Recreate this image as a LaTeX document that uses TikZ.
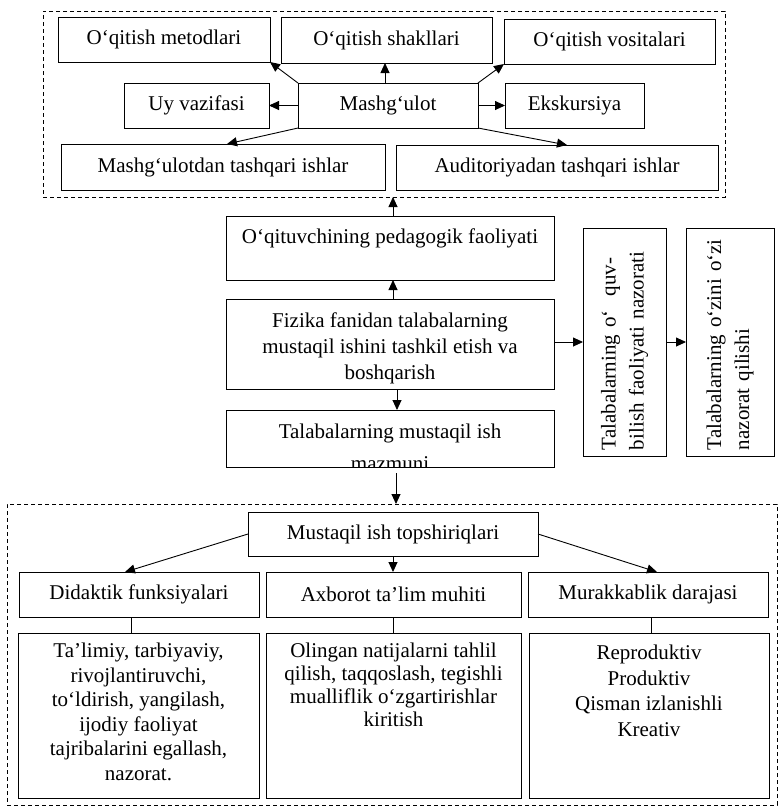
\documentclass[tikz,border=0pt]{standalone}
\usepackage{fontspec}
\setmainfont{Liberation Serif}
\usetikzlibrary{arrows.meta}
\begin{document}
\begin{tikzpicture}[x=1pt,y=-1pt,
  box/.style={draw, line width=0.9pt, inner sep=0pt, outer sep=0pt, align=center, font=\fontsize{21}{25}\selectfont},
  txt/.style={inner sep=0pt, outer sep=0pt, align=center},
  arr/.style={line width=0.9pt, -{Triangle[length=10pt,width=9pt]}},
  ln/.style={line width=0.9pt},
  dbox/.style={draw, line width=0.9pt, dash pattern=on 4pt off 3pt, inner sep=0pt, outer sep=0pt}
]
\fill[white] (0,0) rectangle (778,807);
\useasboundingbox (0,0) rectangle (778,807);

% ---------- top group ----------
\node[dbox, minimum width=682pt, minimum height=186pt] (grp1) at (384,104) {};
\node[box, minimum width=212pt, minimum height=45pt] (met) at (164,39.5) {O‘qitish metodlari};
\node[box, minimum width=211pt, minimum height=46pt] (shak) at (386.5,40) {O‘qitish shakllari};
\node[box, minimum width=211pt, minimum height=45pt] (vos) at (609.5,41.5) {O‘qitish vositalari};
\node[box, minimum width=145pt, minimum height=45pt] (uy) at (196.5,105.5) {Uy vazifasi};
\node[box, minimum width=180pt, minimum height=45pt] (mash) at (388,105.5) {Mashg‘ulot};
\node[box, minimum width=139pt, minimum height=45pt] (eks) at (574.5,105.5) {Ekskursiya};
\node[box, minimum width=324pt, minimum height=46pt] (mtash) at (223,167) {Mashg‘ulotdan tashqari ishlar};
\node[box, minimum width=322pt, minimum height=45pt] (atash) at (557,167.5) {Auditoriyadan tashqari ishlar};

\draw[arr] (mash.north west) -- (met.south east);
\draw[arr] ([xshift=-1.5pt]shak.south |- mash.north) -- ([xshift=-1.5pt]shak.south);
\draw[arr] (mash.north east) -- (vos.south west);
\draw[arr] (mash.west) -- (uy.east);
\draw[arr] (mash.east) -- (eks.west);
\draw[arr] (mash.south west) -- ([xshift=4pt]mtash.north);
\draw[arr] (mash.south east) -- ([xshift=10pt]atash.north);

% ---------- middle column ----------
\node[box, minimum width=328pt, minimum height=64pt] (ped) at (390,248) {};
\node[txt, font=\fontsize{21}{25}\selectfont] (pedtxt) at (390,238) {O‘qituvchining pedagogik faoliyati};
\node[box, minimum width=328pt, minimum height=90pt] (fiz) at (390,344) {};
\node[txt, font=\fontsize{21}{26}\selectfont] (fiztxt) at (390,348) {Fizika fanidan talabalarning\\mustaqil ishini tashkil etish va\\boshqarish};
\node[box, minimum width=328pt, minimum height=57pt] (maz) at (390,438.5) {};
\begin{scope}
  \clip (maz.south west) rectangle (maz.north east);
  \node[txt, font=\fontsize{21}{32}\selectfont] (maztxt) at (390,447) {Talabalarning mustaqil ish\\mazmuni};
\end{scope}

\draw[arr] ([xshift=3pt]ped.north) -- ([xshift=3pt]ped.north |- grp1.south);
\draw[arr] ([xshift=3pt]fiz.north) -- ([xshift=3pt]ped.south);
\draw[arr] ([xshift=7pt]fiz.south) -- ([xshift=7pt]maz.north);

% ---------- right vertical boxes ----------
\node[box, minimum width=83pt, minimum height=228pt] (kq) at (624.5,342) {};
\node[txt, rotate=90, align=left, text width=216pt, font=\fontsize{21}{28}\selectfont] (kqtxt) at (624.5,342) {Talabalarning o‘\ \ quv-\\bilish faoliyati nazorati};
\node[box, minimum width=88pt, minimum height=228pt] (kz) at (730,342) {};
\node[txt, rotate=90, align=left, text width=216pt, font=\fontsize{21}{28}\selectfont] (kztxt) at (730,342) {Talabalarning o‘zini o‘zi\\nazorat qilishi};

\draw[arr] (fiz.east |- kq.west) -- (kq.west);
\draw[arr] (kq.east) -- (kz.west);

% ---------- bottom group ----------
\node[dbox, minimum width=770pt, minimum height=301pt] (grp2) at (392,654.5) {};
\draw[arr, shorten <=6pt] ([xshift=6pt]maz.south) -- ([xshift=6pt]maz.south |- grp2.north);

\node[box, minimum width=290pt, minimum height=44pt] (must) at (393,534) {Mustaqil ish topshiriqlari};
\node[box, minimum width=240pt, minimum height=45pt] (did) at (139,594.5) {Didaktik funksiyalari};
\node[box, minimum width=255pt, minimum height=45pt] (axb) at (393.5,594.5) {Axborot ta’lim muhiti};
\node[box, minimum width=240pt, minimum height=45pt] (mur) at (648,594.5) {Murakkablik darajasi};

\draw[arr] (must.west) -- ([xshift=-14pt]did.north);
\draw[arr] (must.south) -- (must.south |- axb.north);
\draw[arr] (must.east) -- ([xshift=9pt]mur.north);

\node[box, minimum width=241pt, minimum height=165pt] (tal) at (138.5,715.5) {};
\node[box, minimum width=255pt, minimum height=165pt] (oli) at (393.5,715.5) {};
\node[box, minimum width=240pt, minimum height=165pt] (rep) at (649,715.5) {};

\draw[ln] ([xshift=-7.5pt]did.south) -- ([xshift=-7.5pt]did.south |- tal.north);
\draw[ln] (axb.south) -- (axb.south |- oli.north);
\draw[ln] ([xshift=3pt]mur.south) -- ([xshift=3pt]mur.south |- rep.north);

\node[txt, anchor=north, font=\fontsize{21}{24.5}\selectfont] (taltxt) at (138.5,643) {Ta’limiy, tarbiyaviy,\\rivojlantiruvchi,\\to‘ldirish, yangilash,\\ijodiy faoliyat\\tajribalarini egallash,\\nazorat.};
\node[txt, anchor=north, font=\fontsize{21}{23}\selectfont] (olitxt) at (393.5,643) {Olingan natijalarni tahlil\\qilish, taqqoslash, tegishli\\mualliflik o‘zgartirishlar\\kiritish};
\node[txt, anchor=north, font=\fontsize{21}{25.5}\selectfont] (reptxt) at (649,645) {Reproduktiv\\Produktiv\\Qisman izlanishli\\Kreativ};
\end{tikzpicture}
\end{document}
